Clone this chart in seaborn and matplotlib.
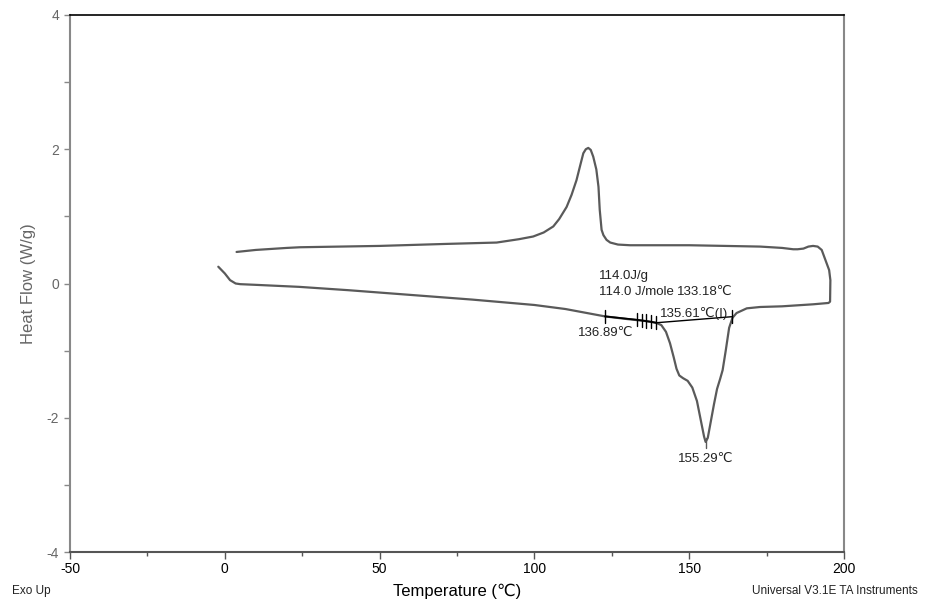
import matplotlib
matplotlib.use("Agg")
import matplotlib.pyplot as plt
from matplotlib.ticker import MultipleLocator
import seaborn as sns
import pandas as pd

# ---- data ----
# Heating scan then isothermal hook then cooling scan (one continuous trace)
temp = [-2.1, 0.0, 1.7, 3.5, 5.0, 10, 24, 40, 60, 80, 100, 110, 122.8, 130, 136, 139.3,
        141, 142.5, 143.8, 145, 145.9, 146.8, 148, 149.5, 151, 152.5, 153.8, 154.8, 155.3,
        156, 157, 158, 159, 160, 160.8, 161.8, 162.9, 164, 165.3, 168.6, 172.9, 180, 190,
        195, 195.5, 195.6, 195.2, 194.4, 192.8, 191.5, 190.0, 188.5, 186.9, 185, 183.6,
        180, 172.9, 150, 135, 130.9, 127, 124.5, 123.3, 122.3, 121.7, 121.1, 120.7, 120.0,
        119.0, 118.2, 117.4, 116.6, 115.8, 114.8, 113.6, 112.0, 110.4, 108.0, 106.1, 103,
        99.6, 95, 87.8, 71.7, 50.1, 24.3, 20, 10, 3.8]
heat_flow = [0.25, 0.15, 0.05, 0.00, -0.01, -0.02, -0.05, -0.10, -0.17, -0.24, -0.32, -0.38,
             -0.49, -0.53, -0.56, -0.585,
             -0.62, -0.72, -0.89, -1.10, -1.27, -1.37, -1.41, -1.45, -1.55, -1.75, -2.05,
             -2.28, -2.36,
             -2.30, -2.05, -1.80, -1.57, -1.42, -1.29, -1.00, -0.66, -0.51, -0.44, -0.37,
             -0.35, -0.34, -0.31,
             -0.29, -0.27, 0.05, 0.20, 0.30, 0.50, 0.55, 0.56, 0.55, 0.52, 0.51, 0.51,
             0.53, 0.55, 0.57, 0.57, 0.57, 0.58, 0.61, 0.65, 0.72, 0.80, 1.10, 1.44, 1.70,
             1.89, 1.99, 2.02, 2.00, 1.94, 1.76, 1.54, 1.32, 1.14, 0.96, 0.85, 0.76,
             0.70, 0.66, 0.61, 0.59, 0.56, 0.54, 0.53, 0.50, 0.47]

# integration markers (temperature, heat flow)
marker_t = [122.8, 133.0, 134.7, 136.0, 137.6, 139.3, 163.7]
marker_h = [-0.49, -0.54, -0.55, -0.56, -0.57, -0.585, -0.495]
baseline_t = [139.3, 163.7]
baseline_h = [-0.585, -0.495]
peak_t = 155.3
peak_h = [-2.30, -2.45]

# annotation texts and anchor positions
ann_text = ["114.0J/g", "114.0 J/mole", "133.18\u2103", "135.61\u2103(I)", "136.89\u2103", "155.29\u2103"]
ann_t = [120.9, 120.8, 146.0, 140.6, 114.2, 146.5]
ann_h = [0.116, -0.131, -0.131, -0.444, -0.733, -2.615]

x_ticks = [-50, 0, 50, 100, 150, 200]
y_ticks = [-4, -2, 0, 2, 4]

df = pd.DataFrame({"Temperature": temp, "HeatFlow": heat_flow})

# ---- figure ----
sns.set_style("white")
plt.rcParams["font.family"] = ["Liberation Sans", "DejaVu Sans"]
plt.rcParams["axes.unicode_minus"] = False

fig = plt.figure(figsize=(9.29, 6.05), dpi=100)
ax = fig.add_axes([70 / 929, 53 / 605, 774 / 929, 537 / 605])

sns.lineplot(data=df, x="Temperature", y="HeatFlow", sort=False, estimator=None,
             color="#5a5a5a", lw=1.6, ax=ax)

# integration region: dark segment along the curve + baseline
ax.plot(marker_t[:6], marker_h[:6], color="black", lw=1.3)
ax.plot(baseline_t, baseline_h, color="black", lw=1.0)
for t, h in zip(marker_t, marker_h):
    ax.plot([t, t], [h - 0.1, h + 0.1], color="black", lw=1.0)
ax.plot([peak_t, peak_t], peak_h, color="#5a5a5a", lw=1.0)

for s, t, h in zip(ann_text, ann_t, ann_h):
    ax.text(t, h, s, ha="left", va="center", fontsize=9.5, color="#222222")

ax.set_xlim(-50, 200)
ax.set_ylim(-4, 4)
ax.set_xticks(x_ticks)
ax.set_yticks(y_ticks)
ax.xaxis.set_minor_locator(MultipleLocator(25))
ax.yaxis.set_minor_locator(MultipleLocator(1))

ax.tick_params(axis="x", which="major", direction="out", length=5, width=1,
               color="#555555", labelsize=10, labelcolor="black", pad=2, bottom=True)
ax.tick_params(axis="x", which="minor", direction="out", length=3, width=1,
               color="#555555", bottom=True)
ax.tick_params(axis="y", which="both", direction="out", length=4, width=1,
               color="#888888", labelsize=10, labelcolor="#666666", pad=4, left=True)

ax.set_xlabel("Temperature (\u2103)", fontsize=12, color="black")
ax.set_ylabel("Heat Flow (W/g)", fontsize=12, color="#666666")
ax.xaxis.set_label_coords(0.5, -0.058)
ax.yaxis.set_label_coords(-0.044, 0.5)

for side, col, lw in [("left", "#888888", 1.5), ("right", "#888888", 1.5),
                      ("top", "black", 1.2), ("bottom", "#555555", 1.5)]:
    ax.spines[side].set_visible(True)
    ax.spines[side].set_color(col)
    ax.spines[side].set_linewidth(lw)

fig.text(12 / 929, 1 - 591 / 605, "Exo Up", ha="left", va="center", fontsize=8.5, color="#222222")
fig.text(752 / 929, 1 - 591 / 605, "Universal V3.1E TA Instruments", ha="left", va="center",
         fontsize=8.5, color="#222222")

fig.savefig("out.png", dpi=100)
